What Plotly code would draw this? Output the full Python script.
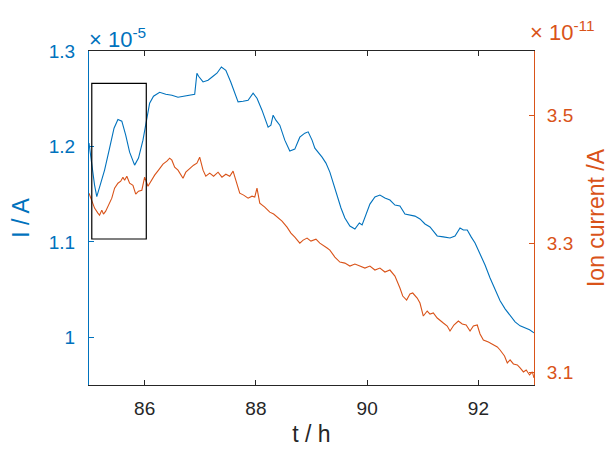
import plotly.graph_objects as go

# Left series: current I (units of 1e-5 A)
t_i = [85.00, 85.05, 85.10, 85.14, 85.19, 85.28, 85.37, 85.45, 85.52, 85.59, 85.66, 85.73, 85.82, 85.89,
       85.97, 86.03, 86.09, 86.16, 86.27, 86.38, 86.49, 86.60, 86.70, 86.81, 86.90, 86.94, 86.97, 87.05,
       87.14, 87.23, 87.30, 87.38, 87.46, 87.55, 87.62, 87.68, 87.77, 87.86, 87.95, 88.02, 88.11, 88.22,
       88.27, 88.31, 88.36, 88.43, 88.52, 88.61, 88.70, 88.79, 88.88, 88.94, 89.01, 89.06, 89.19, 89.26,
       89.33, 89.40, 89.46, 89.53, 89.60, 89.69, 89.78, 89.86, 89.91, 89.98, 90.05, 90.14, 90.23, 90.32,
       90.41, 90.50, 90.59, 90.68, 90.77, 90.86, 90.95, 91.04, 91.13, 91.26, 91.37, 91.49, 91.58, 91.67,
       91.73, 91.80, 91.87, 91.94, 92.03, 92.12, 92.21, 92.30, 92.39, 92.48, 92.57, 92.66, 92.75, 92.84,
       92.92, 93.00]
i_vals = [1.2035, 1.180, 1.1595, 1.1473, 1.1564, 1.1752, 1.1982, 1.2191, 1.2282, 1.2265, 1.2118, 1.194,
          1.1804, 1.1878, 1.2066, 1.2244, 1.2453, 1.2526, 1.2568, 1.2547, 1.2537, 1.2516, 1.2526, 1.2537,
          1.2547, 1.2767, 1.2735, 1.2676, 1.2694, 1.2735, 1.2767, 1.2833, 1.2798, 1.2673, 1.2568, 1.2467,
          1.2474, 1.2484, 1.2558, 1.2505, 1.238, 1.2202, 1.2223, 1.2327, 1.2275, 1.2223, 1.2066, 1.1951,
          1.1972, 1.2097, 1.2139, 1.2153, 1.2066, 1.1982, 1.1888, 1.1825, 1.1731, 1.1595, 1.1491, 1.1355,
          1.125, 1.1166, 1.1135, 1.1198, 1.1177, 1.1292, 1.1396, 1.147, 1.149, 1.1459, 1.1438, 1.1386,
          1.1375, 1.1292, 1.1281, 1.127, 1.124, 1.1187, 1.1156, 1.1062, 1.1052, 1.1041, 1.1062, 1.1146,
          1.1125, 1.1125, 1.1052, 1.0988, 1.0873, 1.0758, 1.0622, 1.0497, 1.0382, 1.0298, 1.0225, 1.0162,
          1.012, 1.0099, 1.0078, 1.0047]

# Right series: ion current (units of 1e-11 A)
t_ion = [85.00, 85.05, 85.10, 85.16, 85.19, 85.23, 85.26, 85.30, 85.35, 85.41, 85.46, 85.52, 85.57, 85.61,
         85.64, 85.68, 85.73, 85.79, 85.84, 85.89, 85.95, 86.00, 86.06, 86.11, 86.18, 86.25, 86.33, 86.40,
         86.45, 86.49, 86.54, 86.60, 86.69, 86.74, 86.81, 86.88, 86.94, 86.99, 87.05, 87.10, 87.17, 87.24,
         87.32, 87.39, 87.46, 87.53, 87.59, 87.64, 87.71, 87.78, 87.86, 87.93, 87.98, 88.02, 88.07, 88.16,
         88.25, 88.32, 88.38, 88.47, 88.56, 88.63, 88.70, 88.79, 88.85, 88.92, 88.99, 89.08, 89.15, 89.21,
         89.28, 89.33, 89.42, 89.51, 89.60, 89.69, 89.78, 89.87, 89.96, 90.05, 90.14, 90.23, 90.32, 90.41,
         90.50, 90.59, 90.64, 90.71, 90.77, 90.82, 90.90, 90.95, 91.01, 91.08, 91.13, 91.19, 91.26, 91.37,
         91.44, 91.49, 91.56, 91.64, 91.71, 91.78, 91.85, 91.91, 91.98, 92.03, 92.09, 92.18, 92.27, 92.34,
         92.39, 92.47, 92.52, 92.57, 92.63, 92.70, 92.75, 92.81, 92.86, 92.92, 92.97, 93.00]
ion_vals = [3.3787, 3.3678, 3.3554, 3.3476, 3.3445, 3.3523, 3.3461, 3.3507, 3.36, 3.3709, 3.3865, 3.3942,
            3.3973, 3.4036, 3.3988, 3.4051, 3.3942, 3.391, 3.3771, 3.3818, 3.3833, 3.4036, 3.3895, 3.3973,
            3.4067, 3.4145, 3.4238, 3.4285, 3.4331, 3.43, 3.4191, 3.4145, 3.402, 3.4113, 3.4176, 3.4222,
            3.4254, 3.4347, 3.4145, 3.4051, 3.4098, 3.4051, 3.4113, 3.4036, 3.4082, 3.4051, 3.4129, 3.3989,
            3.3787, 3.3756, 3.3709, 3.374, 3.3725, 3.3865, 3.3632, 3.3569, 3.3491, 3.3461, 3.3414, 3.3352,
            3.3258, 3.3165, 3.3103, 3.3009, 3.3056, 3.3087, 3.304, 3.3071, 3.3009, 3.2978, 3.2932, 3.29,
            3.2792, 3.2714, 3.2698, 3.2652, 3.2683, 3.2652, 3.2621, 3.2652, 3.259, 3.2621, 3.2559, 3.259,
            3.2496, 3.231, 3.2185, 3.2123, 3.2216, 3.2232, 3.2154, 3.2076, 3.1874, 3.1952, 3.1905, 3.1921,
            3.1843, 3.1765, 3.1718, 3.1641, 3.1734, 3.1796, 3.1749, 3.1734, 3.1641, 3.1718, 3.1734, 3.1594,
            3.1501, 3.147, 3.1423, 3.1392, 3.1345, 3.1252, 3.1143, 3.119, 3.1128, 3.1112, 3.1065, 3.1003,
            3.1034, 3.0956, 3.1003, 3.091]

x_ticks = [86, 88, 90, 92]
y_ticks = [1.0, 1.1, 1.2, 1.3]
y_tick_text = ["1", "1.1", "1.2", "1.3"]
y2_ticks = [3.1, 3.3, 3.5]
y2_tick_text = ["3.1", "3.3", "3.5"]
box_t = [85.05, 86.03]
box_i = [1.103, 1.266]

BLUE = "#0072BD"
ORANGE = "#D95319"
DARK = "#262626"
FONT = "Liberation Sans, Arial, sans-serif"

fig = go.Figure()
fig.add_trace(go.Scatter(x=t_i, y=i_vals, mode="lines", line=dict(color=BLUE, width=1.1),
                         yaxis="y", showlegend=False))
fig.add_trace(go.Scatter(x=t_ion, y=ion_vals, mode="lines", line=dict(color=ORANGE, width=1.1),
                         yaxis="y2", showlegend=False))

fig.add_shape(type="rect", xref="x", yref="y", x0=box_t[0], x1=box_t[1], y0=box_i[0], y1=box_i[1],
              line=dict(color="black", width=1.2), fillcolor="rgba(0,0,0,0)")

fig.update_layout(
    width=609, height=450,
    margin=dict(l=89, r=75, t=51, b=65, autoexpand=False),
    plot_bgcolor="white", paper_bgcolor="white",
    font=dict(family=FONT, size=18, color=DARK),
    xaxis=dict(range=[85, 93], tickvals=x_ticks, ticks="inside", ticklen=5, tickcolor=DARK,
               showline=True, linecolor=DARK, linewidth=1, mirror="ticks", showgrid=False,
               zeroline=False, tickfont=dict(size=19, color=DARK), automargin=False,
               ticklabelstandoff=6,
               title=dict(text="t / h", font=dict(size=23, color=DARK), standoff=8)),
    yaxis=dict(range=[0.95, 1.3], tickvals=y_ticks, ticktext=y_tick_text,
               ticks="inside", ticklen=5, tickcolor=BLUE, automargin=False,
               showline=True, linecolor=BLUE, linewidth=1, showgrid=False, zeroline=False,
               tickfont=dict(size=19, color=BLUE), ticklabelstandoff=9,
               title=dict(text="I / A", font=dict(size=23, color=BLUE), standoff=12)),
    yaxis2=dict(range=[3.08, 3.6], tickvals=y2_ticks, ticktext=y2_tick_text, overlaying="y", side="right",
                ticks="inside", ticklen=5, tickcolor=ORANGE, automargin=False,
                showline=True, linecolor=ORANGE, linewidth=1, showgrid=False, zeroline=False,
                tickfont=dict(size=19, color=ORANGE), ticklabelstandoff=8,
                title=dict(text="Ion current /A", font=dict(size=23, color=ORANGE), standoff=16)),
    annotations=[
        dict(text="× 10<sup>-5</sup>", xref="paper", yref="paper",
             x=0, y=1, xanchor="left", yanchor="bottom", showarrow=False,
             font=dict(size=22, color=BLUE), yshift=-3, xshift=-2),
        dict(text="× 10<sup>-11</sup>", xref="paper", yref="paper",
             x=1, y=1, xanchor="left", yanchor="bottom", showarrow=False,
             font=dict(size=22, color=ORANGE), yshift=4, xshift=-6),
    ],
)

fig.write_html("out.html", config={"displayModeBar": False},
               post_script="document.body.style.margin='0px';")
